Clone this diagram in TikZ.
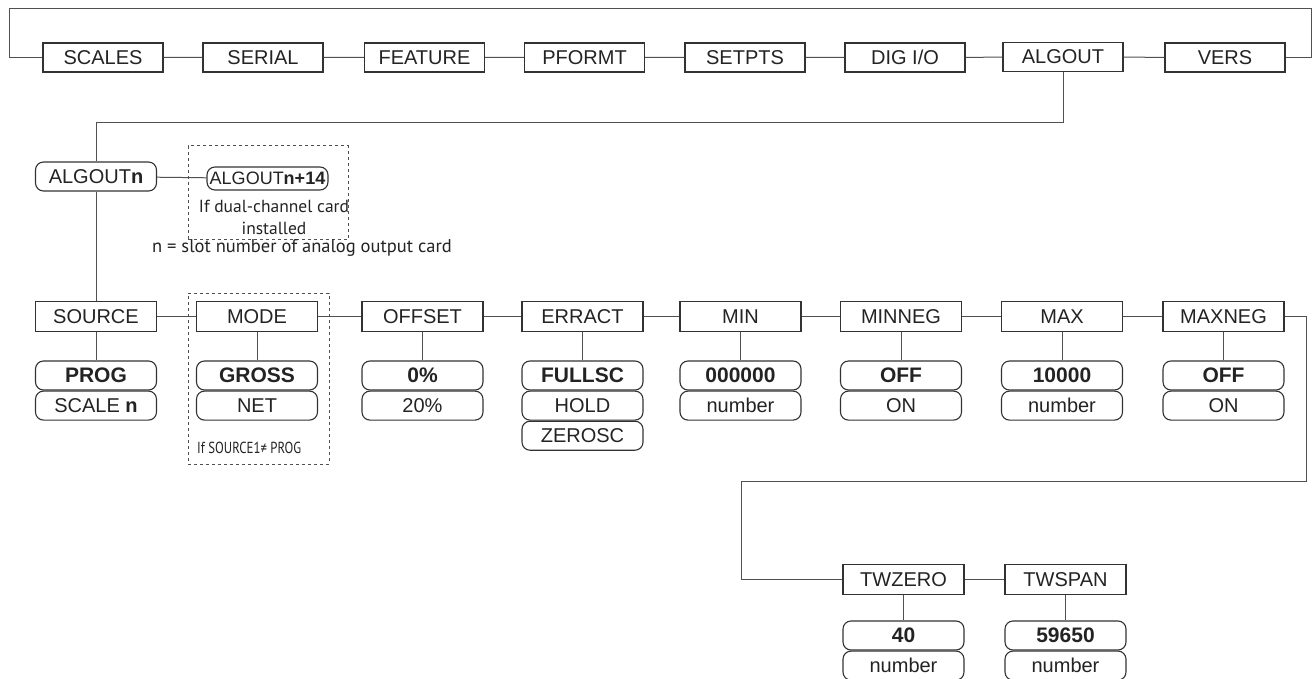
\documentclass[tikz,border=0pt]{standalone}
\usepackage{fontspec}
\setmainfont{Liberation Sans}
\newfontfamily\notefont{PT Sans}
\newfontfamily\notenarrow[FakeStretch=0.8]{PT Sans}
\usetikzlibrary{positioning}
\definecolor{menuline}{RGB}{80,80,80}
\definecolor{menuedge}{RGB}{50,50,50}
\definecolor{menutext}{RGB}{35,35,35}

\begin{document}
\begin{tikzpicture}[x=1pt, y=-1pt,
    menu/.style={rectangle, draw=menuedge, line width=1.1pt, text=menutext,
                 minimum width=120pt, minimum height=29pt, inner sep=0pt,
                 font=\fontsize{20}{22}\selectfont},
    param/.style={menu, minimum width=121pt, minimum height=30pt},
    choice/.style={menu, rounded corners=8pt, minimum width=121pt, minimum height=29pt},
    dflt/.style={choice, font=\fontsize{21}{23}\selectfont\bfseries},
    link/.style={draw=menuline, line width=1pt},
    optbox/.style={draw=menuline, dashed, line width=1pt, inner sep=0pt},
    note/.style={text=menutext, align=center, inner sep=0pt,
                 font=\notefont\fontsize{17.5}{22}\selectfont}
  ]
    \useasboundingbox (0,0) rectangle (1312,679);

    % top menu row
    \node[menu] (scales)  at (103,57.5)   {SCALES};
    \node[menu] (serial)  at (263,57.5)   {SERIAL};
    \node[menu] (feature) at (424.5,57.5) {FEATURE};
    \node[menu] (pformt)  at (584.5,57.5) {PFORMT};
    \node[menu] (setpts)  at (745,57.5)   {SETPTS};
    \node[menu] (digio)   at (905,57.5)   {DIG I/O};
    \node[menu] (algout)  at (1063,57)    {ALGOUT};
    \node[menu] (vers)    at (1225,57.5)  {VERS};
    \draw[link] (scales) -- (serial) -- (feature) -- (pformt) -- (setpts)
                -- (digio) -- (algout) -- (vers);
    \coordinate (frameL) at (9,9);
    \coordinate (frameR) at (1311,9);
    \draw[link] (scales.west) -| (frameL) -- (frameR) |- (vers.east);

    % ALGOUT channels
    \coordinate (drop) at (96,123);
    \node[optbox, minimum width=160pt, minimum height=94pt] (dualbox) at (268,193) {};
    \node[choice] (algoutn) at (96,176.5) {ALGOUT\textbf{n}};
    \node[choice, minimum height=23pt, font=\fontsize{18}{20}\selectfont]
        (algoutx) at (267.5,178.5) {ALGOUT\textbf{n+14}};
    \node[note] (dualnote) at (274,217) {If dual-channel card\\installed};
    \node[note, font=\notefont\fontsize{18.5}{22}\selectfont]
        (slotnote) at (302,248) {n = slot number of analog output card};
    \draw[link] (algout.south) |- (drop) -- (algoutn.north);
    \draw[link] (algoutn) -- (algoutx);

    % parameter row
    \node[optbox, minimum width=141pt, minimum height=171pt] (modebox) at (258.5,378.5) {};
    \node[param] (source) at (96,316.5)     {SOURCE};
    \node[param] (mode)   at (257,316.5)    {MODE};
    \node[param] (offset) at (422.5,316.5)  {OFFSET};
    \node[param] (erract) at (582.5,316.5)  {ERRACT};
    \node[param] (min)    at (740.5,316.5)  {MIN};
    \node[param] (minneg) at (901,316.5)    {MINNEG};
    \node[param] (max)    at (1062,316.5)   {MAX};
    \node[param] (maxneg) at (1223.5,316.5) {MAXNEG};
    \draw[link] (algoutn) -- (source);
    \draw[link] (source) -- (mode) -- (offset) -- (erract) -- (min)
                -- (minneg) -- (max) -- (maxneg);

    % choices
    \node[dflt]   (prog)    at (96,375.5)     {PROG};
    \node[choice] (scalen)  [below=0pt of prog] {SCALE \textbf{n}};
    \node[dflt]   (gross)   at (257,375.5)    {GROSS};
    \node[choice] (net)     [below=0pt of gross] {NET};
    \node[note, anchor=west, font=\notenarrow\fontsize{16}{18}\selectfont]
        (modenote) at (197,448) {If SOURCE1≠ PROG};
    \node[dflt]   (pct0)    at (422.5,375.5)  {0\%};
    \node[choice] (pct20)   [below=0pt of pct0] {20\%};
    \node[dflt]   (fullsc)  at (582.5,375.5)  {FULLSC};
    \node[choice] (hold)    [below=0pt of fullsc] {HOLD};
    \node[choice] (zerosc)  [below=0pt of hold] {ZEROSC};
    \node[dflt]   (minval)  at (740.5,375.5)  {000000};
    \node[choice] (minnum)  [below=0pt of minval] {number};
    \node[dflt]   (minoff)  at (901,375.5)    {OFF};
    \node[choice] (minon)   [below=0pt of minoff] {ON};
    \node[dflt]   (maxval)  at (1062,375.5)   {10000};
    \node[choice] (maxnum)  [below=0pt of maxval] {number};
    \node[dflt]   (maxoff)  at (1223.5,375.5) {OFF};
    \node[choice] (maxon)   [below=0pt of maxoff] {ON};
    \draw[link] (source) -- (prog);
    \draw[link] (mode) -- (gross);
    \draw[link] (offset) -- (pct0);
    \draw[link] (erract) -- (fullsc);
    \draw[link] (min) -- (minval);
    \draw[link] (minneg) -- (minoff);
    \draw[link] (max) -- (maxval);
    \draw[link] (maxneg) -- (maxoff);

    % tare weight row
    \coordinate (wrapL) at (741,481);
    \node[param] (twzero) at (903.5,579.5)  {TWZERO};
    \node[param] (twspan) at (1065.5,579.5) {TWSPAN};
    \node[dflt]   (zeroval) at (903.5,635.5)  {40};
    \node[choice] (zeronum) [below=0pt of zeroval] {number};
    \node[dflt]   (spanval) at (1065.5,635.5) {59650};
    \node[choice] (spannum) [below=0pt of spanval] {number};
    \draw[link] (maxneg.east) -- ++(22,0) |- (wrapL) |- (twzero.west);
    \draw[link] (twzero) -- (twspan);
    \draw[link] (twzero) -- (zeroval);
    \draw[link] (twspan) -- (spanval);
  \end{tikzpicture}
\end{document}
